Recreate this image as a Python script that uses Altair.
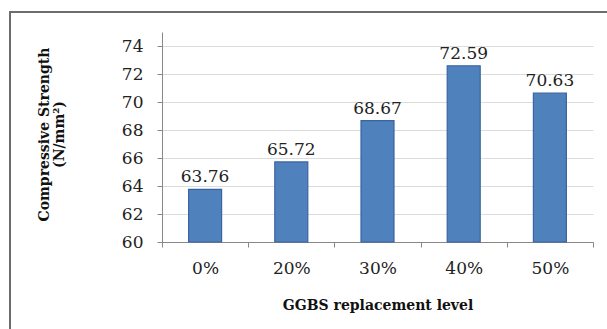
import altair as alt
import pandas as pd

# GGBS replacement levels and measured compressive strength (N/mm²)
levels = ["0%", "20%", "30%", "40%", "50%"]
strength = [63.76, 65.72, 68.67, 72.59, 70.63]
y_ticks = [60, 62, 64, 66, 68, 70, 72, 74]

df = pd.DataFrame({"level": levels, "strength": strength})
df["label"] = [f"{v:.2f}" for v in strength]

SERIF = "DejaVu Serif"

x_axis = alt.Axis(
    title="GGBS replacement level",
    titleFont=SERIF, titleFontSize=14, titleFontWeight="bold", titleColor="#111",
    titleY=63, titleBaseline="middle",
    labelFont=SERIF, labelFontSize=17, labelColor="#222", labelAngle=0,
    labelPadding=13, tickBand="extent", tickSize=5, tickColor="#888",
    domainColor="#888", grid=False, labelOverlap=False,
)

y_axis = alt.Axis(
    title=["Compressive Strength", "(N/mm²)"],
    titleFont=SERIF, titleFontSize=14, titleFontWeight="bold", titleColor="#111",
    titleAngle=-90, titleX=-118, titleY=102, titleAlign="center",
    titleBaseline="middle", titleLineHeight=15,
    values=y_ticks, labelOverlap=False, labelFont=SERIF, labelFontSize=17,
    labelColor="#222", labelPadding=14, tickSize=5, tickColor="#888",
    domainColor="#888", gridColor="#dcdcdc", gridWidth=1,
)

x_scale = alt.Scale(paddingInner=0, paddingOuter=0)
y_scale = alt.Scale(domain=[60, 75], nice=False, zero=False)

bars = alt.Chart(df).mark_bar(
    size=33, color="#4F81BD", stroke="#3B64A0", strokeWidth=1.2
).encode(
    x=alt.X("level:N", sort=levels, scale=x_scale, axis=x_axis),
    y=alt.Y("strength:Q", scale=y_scale, axis=y_axis),
    y2=alt.datum(60),
)

labels = alt.Chart(df).mark_text(
    font=SERIF, fontSize=17, color="#222", baseline="bottom", dy=-3
).encode(
    x=alt.X("level:N", sort=levels, scale=x_scale, axis=x_axis),
    y=alt.Y("strength:Q", scale=y_scale, axis=y_axis),
    text="label:N",
)

# outer frame around the figure
frame = alt.Chart(df).mark_rect(
    fill=None, stroke="#6e6e6e", strokeWidth=1.5
).encode(
    x=alt.value(-152), x2=alt.value(520), y=alt.value(-20), y2=alt.value(400)
)

chart = (
    alt.layer(frame, bars, labels)
    .properties(
        width=431,
        height=210,
        autosize=alt.AutoSizeParams(type="none"),
        padding={"left": 162, "top": 32, "right": 14, "bottom": 87},
        background="white",
    )
    .configure_view(stroke=None)
)

chart.save("out.html", embed_options={"renderer": "svg", "actions": False})
